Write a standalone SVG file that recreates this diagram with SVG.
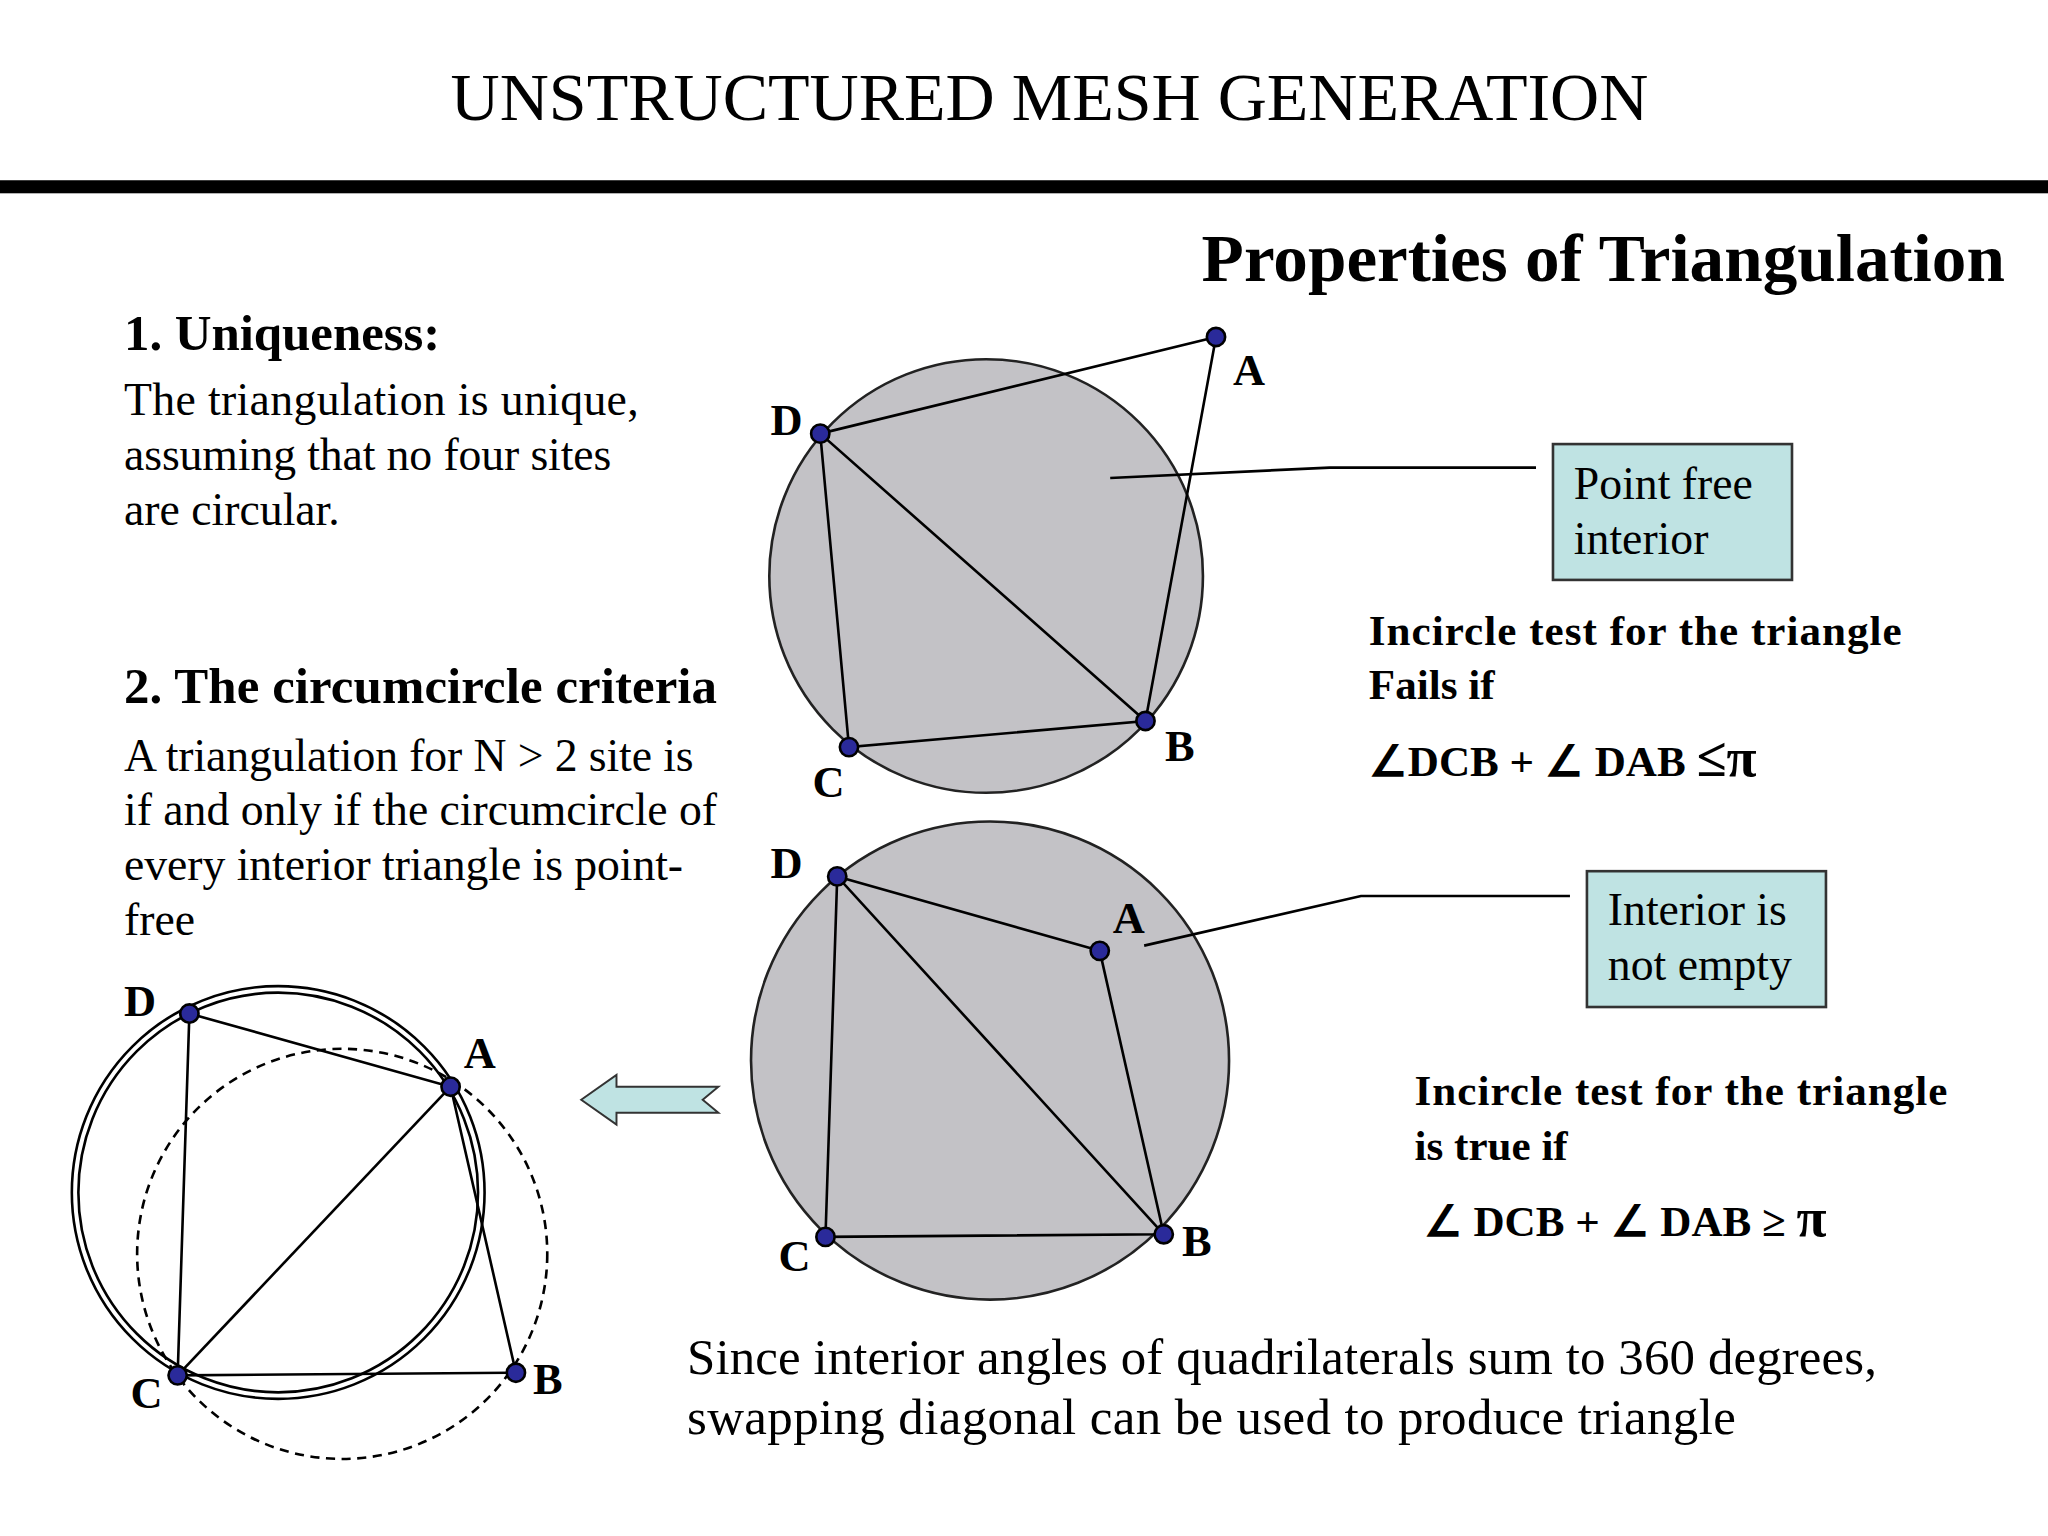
<svg xmlns="http://www.w3.org/2000/svg" width="2048" height="1536" viewBox="0 0 2048 1536" xml:space="preserve">
<style>
text{font-family:"Liberation Serif","Times New Roman",serif;fill:#000}
.b{font-weight:bold}
.lbl{font-weight:bold;font-size:34px}
.body{font-size:35px}
.inc{font-weight:bold;font-size:33px}
.ln{stroke:#000;stroke-width:2;fill:none}
.pt{fill:#2a2a9a;stroke:#000;stroke-width:2}
.circ{fill:#c3c2c6;stroke:#222;stroke-width:2}
.box{fill:#bfe3e3;stroke:#333;stroke-width:2}
</style>
<rect width="2048" height="1536" fill="#fff"/>
<g transform="scale(1.30612)">
<g id="title">
<text x="345" y="92" font-size="52" textLength="917" lengthAdjust="spacingAndGlyphs">UNSTRUCTURED MESH GENERATION</text>
<rect x="0" y="138" width="1568" height="10" fill="#000"/>
<text x="920" y="215" font-size="52" class="b" textLength="615" lengthAdjust="spacingAndGlyphs">Properties of  Triangulation</text>
</g>
<g id="text-left">
<text x="95" y="268" font-size="39" class="b" textLength="242">1. Uniqueness:</text>
<text x="95" y="318" class="body" textLength="394">The  triangulation is unique,</text>
<text x="95" y="360" class="body" textLength="373">assuming that no four sites</text>
<text x="95" y="402" class="body">are circular.</text>
<text x="95" y="538" font-size="39" class="b" textLength="454">2. The circumcircle criteria</text>
<text x="95" y="590" class="body" textLength="436">A triangulation for N &gt; 2 site is</text>
<text x="95" y="632" class="body" textLength="454">if and only if the circumcircle of</text>
<text x="95" y="674" class="body" textLength="428">every interior triangle is point-</text>
<text x="95" y="716" class="body">free</text>
</g>
<g id="top-diagram">
<circle class="circ" cx="755" cy="441" r="166"/>
<polyline class="ln" points="628,332 931,258 877,552 650,572 628,332 877,552"/>
<circle class="pt" cx="628" cy="332" r="7"/><circle class="pt" cx="931" cy="258" r="7"/>
<circle class="pt" cx="877" cy="552" r="7"/><circle class="pt" cx="650" cy="572" r="7"/>
<text x="944" y="295" class="lbl">A</text><text x="590" y="333" class="lbl">D</text>
<text x="892" y="583" class="lbl">B</text><text x="622" y="610" class="lbl">C</text>
</g>
<g id="box-top">
<rect class="box" x="1189" y="340" width="183" height="104"/>
<text x="1205" y="382" class="body">Point free</text>
<text x="1205" y="424" class="body">interior</text>
</g>
<g id="text-top-right">
<text x="1048" y="494" class="inc" textLength="408">Incircle test for the triangle</text>
<text x="1048" y="535" class="inc">Fails if</text>
<text x="1048" y="594" class="inc">∠DCB + ∠ DAB <tspan font-size="42">≤π</tspan></text>
</g>
<g id="bottom-diagram">
<circle class="circ" cx="758" cy="812" r="183"/>
<polyline class="ln" points="641,671 842,728 891,945 632,947 641,671 891,945"/>
<circle class="pt" cx="641" cy="671" r="7"/><circle class="pt" cx="842" cy="728" r="7"/>
<circle class="pt" cx="891" cy="945" r="7"/><circle class="pt" cx="632" cy="947" r="7"/>
<text x="590" y="672" class="lbl">D</text><text x="852" y="714" class="lbl">A</text>
<text x="905" y="962" class="lbl">B</text><text x="596" y="973" class="lbl">C</text>
</g>
<g id="box-bottom">
<rect class="box" x="1215" y="667" width="183" height="104"/>
<text x="1231" y="708" class="body">Interior is</text>
<text x="1231" y="750" class="body">not empty</text>
</g>
<g id="text-bottom-right">
<text x="1083" y="846" class="inc" textLength="408">Incircle test for the triangle</text>
<text x="1083" y="888" class="inc">is true if</text>
<text x="1090" y="946" class="inc">∠ DCB + ∠ DAB  ≥ <tspan font-size="42">π</tspan></text>
</g>
<g id="left-diagram">
<circle class="ln" cx="213" cy="913" r="158" stroke-width="1.5"/>
<circle class="ln" cx="213" cy="913" r="153" stroke-width="1.5"/>
<circle class="ln" cx="262" cy="960" r="157" stroke-dasharray="7,5" stroke-width="1.5"/>
<polyline class="ln" points="145,776 345,832 395,1051 136,1053 145,776"/>
<line class="ln" x1="136" y1="1053" x2="345" y2="832"/>
<circle class="pt" cx="145" cy="776" r="7"/><circle class="pt" cx="345" cy="832" r="7"/>
<circle class="pt" cx="395" cy="1051" r="7"/><circle class="pt" cx="136" cy="1053" r="7"/>
<text x="95" y="778" class="lbl">D</text><text x="355" y="818" class="lbl">A</text>
<text x="408" y="1067" class="lbl">B</text><text x="100" y="1078" class="lbl">C</text>
</g>
<g id="connectors">
<polyline class="ln" stroke-width="1.5" points="850,366 1018,358 1176,358"/>
<polyline class="ln" stroke-width="1.5" points="876,724 1042,686 1202,686"/>
<polygon points="445,842 472,823 472,832 550,832 538,842 550,852 472,852 472,861" fill="#bfe3e3" stroke="#333" stroke-width="1.5"/>
</g>
<g id="text-bottom">
<text x="526" y="1052" font-size="39" textLength="911">Since interior angles of quadrilaterals sum to 360 degrees,</text>
<text x="526" y="1098" font-size="39" textLength="803">swapping diagonal can be used to produce  triangle</text>
</g>
</g>
</svg>
